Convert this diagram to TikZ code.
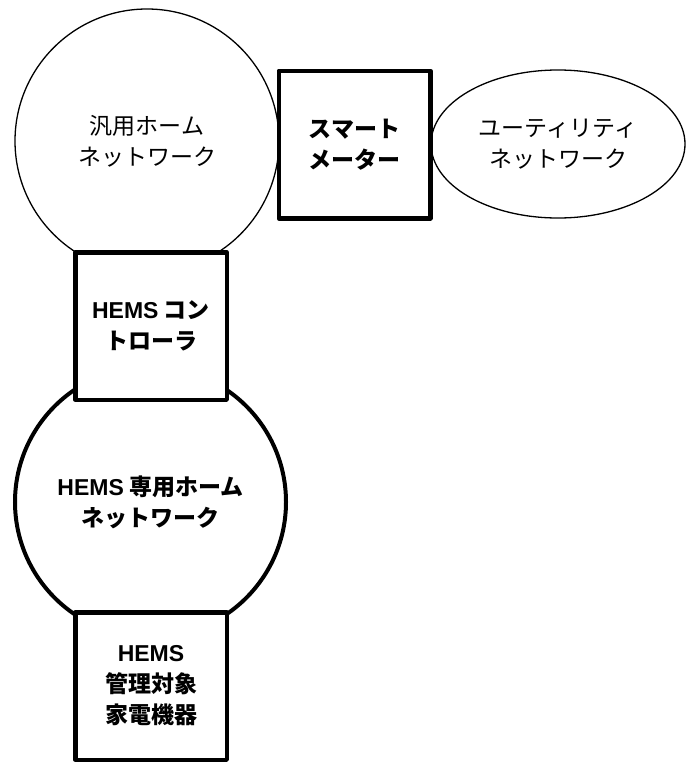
\documentclass[tikz,border=0pt]{standalone}
\usepackage{fontspec}
\setmainfont{Liberation Sans}
\newfontfamily\jp{Noto Sans CJK JP}
\usetikzlibrary{shapes.geometric}
\newcommand\HEMSt{{\rmfamily HEMS}}
\begin{document}
\begin{tikzpicture}[x=1pt,y=-1pt,
  thinshape/.style={draw=black, line width=1.3pt, fill=white, align=center,
    font=\fontsize{23}{31}\selectfont\jp, inner sep=0pt},
  thickcircle/.style={circle, draw=black, line width=4pt, fill=white, align=center,
    font=\fontsize{23}{31}\selectfont\jp\bfseries, inner sep=0pt},
  devbox/.style={rectangle, draw=black, line width=4.5pt, line join=round, fill=white,
    minimum width=151.5pt, minimum height=147.5pt, align=center,
    font=\fontsize{23}{31}\selectfont\jp\bfseries, inner sep=0pt}]
\useasboundingbox (0,0) rectangle (686,763);
\node[thinshape, circle, minimum size=264pt] (gen) at (147,141) {汎用ホーム\\ネットワーク};
\node[thinshape, ellipse, minimum width=254pt, minimum height=148pt] (util) at (558,144) {ユーティリティ\\ネットワーク};
\node[thickcircle, minimum size=271pt] (hnet) at (150.5,502) {\HEMSt\ 専用ホーム\\ネットワーク};
\node[devbox] (sm) at (354.5,144.5) {スマート\\メーター};
\node[devbox] (ctrl) at (151,326) {\HEMSt\ コン\\トローラ};
\node[devbox] (dev) at (151,686) {\HEMSt\\管理対象\\家電機器};
\end{tikzpicture}
\end{document}
